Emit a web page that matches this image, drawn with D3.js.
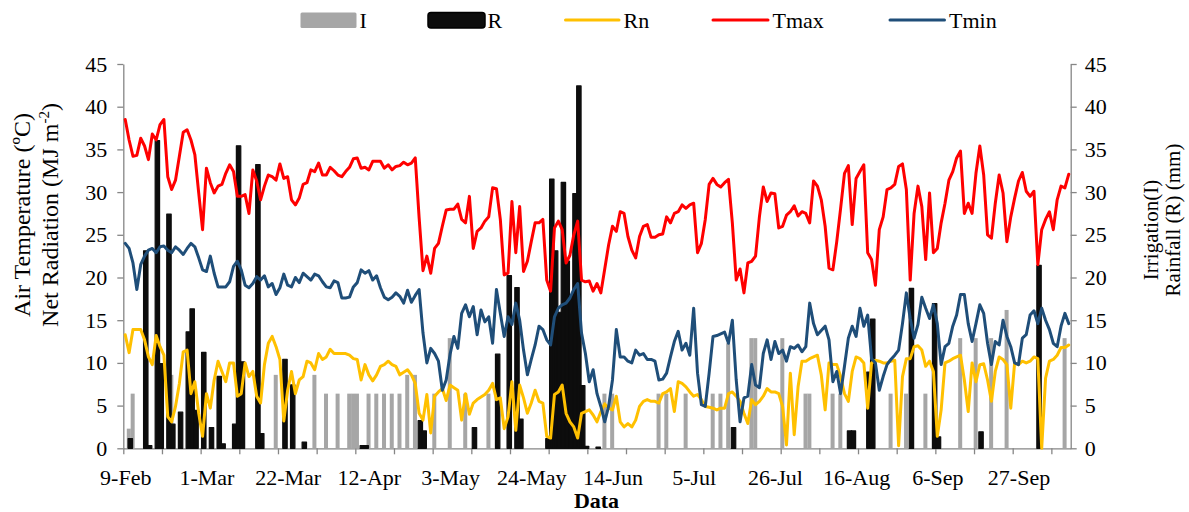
<!DOCTYPE html>
<html>
<head>
<meta charset="utf-8">
<script src="https://cdn.jsdelivr.net/npm/d3@7"></script>
<style>
  body { margin: 0; background: #fff; }
  text { font-family: "Liberation Serif", "Times New Roman", serif; fill: #000; }
</style>
</head>
<body>
<div id="chart"></div>
<script>
// daily series, day 0 = 9-Feb
const tmax = [
  38.5, 36.1, 34.2, 34.3, 36.3, 35.4, 33.8, 36.8, 36.1, 37.9,
  38.5, 31.8, 30.3, 31.4, 34.2, 37.0, 37.3, 36.1, 34.4, 29.9,
  25.6, 32.8, 31.1, 29.9, 30.7, 30.9, 32.2, 33.2, 32.4, 29.5,
  29.5, 29.7, 27.5, 32.6, 31.3, 29.1, 30.7, 32.0, 31.8, 31.4,
  33.3, 31.6, 31.8, 29.1, 28.5, 29.3, 30.9, 31.1, 32.6, 32.4,
  33.4, 32.0, 32.0, 32.9, 32.5, 32.0, 31.8, 32.4, 32.9, 33.9,
  34.0, 32.8, 32.9, 32.6, 33.6, 33.6, 33.6, 32.8, 33.2, 32.6,
  33.0, 33.1, 33.5, 33.2, 33.4, 34.0, 27.0, 20.8, 22.5, 20.5,
  23.4, 24.0, 26.0, 27.9, 28.0, 28.0, 28.6, 26.8, 26.4, 29.5,
  23.4, 25.4, 25.8, 26.6, 27.1, 30.5, 30.4, 26.8, 20.3, 20.5,
  28.9, 22.9, 28.3, 20.7, 21.9, 24.2, 26.4, 26.4, 26.8, 19.7,
  18.4, 25.8, 26.6, 25.6, 21.7, 22.6, 25.0, 26.6, 19.7, 19.5,
  19.6, 18.4, 19.3, 18.2, 21.0, 23.8, 26.0, 25.4, 27.7, 27.5,
  24.8, 23.2, 22.3, 24.8, 26.0, 26.2, 24.7, 24.7, 25.0, 25.1,
  27.1, 26.4, 27.5, 27.7, 28.5, 28.1, 28.5, 28.7, 22.9, 24.0,
  26.8, 30.9, 31.6, 30.9, 30.6, 31.1, 31.5, 26.4, 19.7, 21.0,
  18.2, 21.7, 21.9, 22.5, 27.1, 30.6, 28.9, 29.9, 29.8, 25.8,
  26.0, 27.3, 27.7, 28.4, 27.2, 27.7, 27.5, 26.4, 31.3, 30.7,
  29.1, 26.0, 21.1, 20.9, 24.2, 28.1, 32.2, 33.1, 26.2, 31.6,
  32.4, 33.2, 22.9, 22.1, 19.1, 25.6, 27.1, 30.3, 30.5, 30.9,
  33.0, 33.3, 30.3, 19.7, 27.5, 30.7, 28.3, 22.1, 29.9, 22.9,
  23.4, 26.4, 28.7, 31.4, 32.4, 34.0, 34.8, 27.5, 28.7, 27.5,
  32.2, 35.4, 32.0, 25.0, 24.6, 28.7, 32.0, 29.9, 24.2, 27.1,
  29.3, 31.3, 32.3, 30.1, 29.5, 30.1, 21.5, 25.6, 26.8, 27.7,
  25.6, 29.1, 30.7, 30.5, 32.1
];

const tmin = [
  24.0, 23.4, 21.7, 18.6, 21.5, 22.5, 23.2, 23.4, 22.9, 23.6,
  23.7, 23.2, 22.9, 23.6, 23.2, 22.7, 23.4, 24.0, 23.6, 22.3,
  20.9, 20.7, 22.5, 20.5, 18.9, 18.9, 18.9, 19.5, 21.3, 21.9,
  20.9, 19.1, 18.8, 19.3, 20.1, 19.7, 20.2, 18.9, 19.3, 18.0,
  18.8, 20.4, 19.1, 18.9, 20.0, 19.4, 20.5, 20.1, 19.7, 20.4,
  20.2, 19.5, 18.9, 18.8, 19.6, 19.4, 17.6, 17.6, 17.7, 18.9,
  19.4, 20.9, 20.5, 20.8, 19.7, 20.2, 18.8, 17.7, 17.4, 17.7,
  18.2, 17.8, 17.0, 18.5, 17.1, 17.9, 18.6, 13.5, 10.0, 11.7,
  11.1, 10.2, 6.8, 8.0, 11.0, 13.1, 11.7, 15.8, 16.8, 15.4,
  16.6, 13.3, 16.2, 14.8, 15.4, 12.3, 18.6, 15.8, 13.1, 15.4,
  14.5, 17.0, 15.0, 11.5, 8.6, 10.4, 12.1, 14.3, 13.9, 12.7,
  12.1, 15.4, 16.4, 16.8, 17.0, 17.6, 18.6, 19.3, 13.5, 11.1,
  7.8, 9.2, 6.4, 4.9, 3.1, 4.9, 8.0, 13.9, 10.7, 10.7,
  10.2, 10.0, 11.5, 10.9, 11.1, 10.4, 10.4, 10.2, 8.0, 8.1,
  8.8, 10.7, 12.5, 13.7, 11.5, 12.3, 10.9, 16.4, 8.8, 5.1,
  4.9, 8.8, 13.1, 13.2, 13.4, 13.6, 12.3, 15.0, 8.0, 3.1,
  5.9, 6.1, 9.8, 7.4, 7.1, 11.1, 12.7, 10.4, 12.5, 11.1,
  11.5, 10.2, 11.9, 11.7, 12.1, 11.3, 11.9, 17.0, 14.6, 13.3,
  13.8, 14.3, 12.7, 7.8, 9.0, 6.4, 9.6, 12.9, 14.3, 13.1,
  16.4, 14.3, 15.6, 10.5, 10.0, 6.8, 8.4, 9.8, 10.4, 10.9,
  11.5, 14.6, 18.2, 15.2, 12.9, 14.5, 17.7, 16.4, 15.2, 16.8,
  14.6, 9.8, 11.9, 12.3, 14.3, 15.6, 18.0, 18.0, 14.6, 12.5,
  14.6, 16.8, 15.8, 12.3, 9.8, 12.5, 12.1, 15.0, 13.1, 11.9,
  10.0, 9.8, 12.9, 13.3, 15.6, 16.1, 14.6, 16.4, 15.0, 13.9,
  12.3, 11.9, 14.3, 15.8, 14.6
];

const rn = [
  13.3, 11.2, 13.9, 13.9, 13.9, 12.7, 10.7, 9.8, 13.2, 11.9,
  10.9, 3.7, 3.1, 4.9, 7.6, 11.3, 11.5, 6.4, 7.8, 4.1,
  1.4, 6.4, 4.7, 8.0, 10.2, 9.0, 7.8, 10.0, 10.0, 6.1,
  6.4, 10.0, 8.4, 9.0, 6.1, 5.3, 9.8, 12.3, 13.1, 11.9,
  10.4, 3.2, 6.8, 9.0, 6.4, 8.0, 8.4, 10.2, 10.0, 9.2,
  11.1, 10.4, 10.7, 11.6, 11.1, 11.1, 11.1, 11.1, 10.9, 10.5,
  10.4, 8.0, 9.8, 8.6, 7.9, 8.6, 9.6, 9.8, 10.2, 9.8,
  9.6, 8.6, 8.9, 9.2, 8.6, 7.6, 4.1, 3.3, 6.3, 1.8,
  6.1, 6.6, 7.0, 5.6, 7.4, 7.1, 6.8, 3.3, 6.4, 4.0,
  5.3, 5.7, 6.0, 6.3, 6.8, 7.6, 5.7, 5.9, 2.3, 3.7,
  7.8, 2.1, 7.4, 5.9, 4.1, 5.3, 6.8, 5.5, 5.3, 1.4,
  1.2, 6.3, 6.6, 7.4, 4.1, 3.1, 2.5, 1.2, 4.1, 4.3,
  4.5, 3.9, 3.1, 4.3, 5.2, 4.7, 4.5, 6.1, 3.1, 2.5,
  2.9, 2.5, 3.3, 4.9, 5.5, 5.7, 5.5, 5.5, 5.3, 6.4,
  6.6, 7.0, 4.3, 7.8, 7.6, 7.2, 6.6, 6.1, 6.3, 5.7,
  4.9, 4.8, 4.7, 4.5, 4.7, 4.7, 6.4, 6.6, 6.1, 5.5,
  4.1, 2.9, 5.7, 5.1, 5.5, 6.1, 7.0, 6.6, 6.6, 6.4,
  4.9, 0.4, 8.8, 1.6, 7.2, 10.2, 10.2, 10.5, 10.7, 10.9,
  8.6, 4.5, 10.0, 9.8, 9.8, 8.4, 6.4, 5.5, 9.0, 10.7,
  10.5, 10.0, 4.7, 10.0, 10.3, 10.2, 10.0, 10.0, 10.2, 10.3,
  0.3, 8.4, 10.5, 10.5, 11.9, 12.0, 11.5, 9.6, 10.2, 9.0,
  1.4, 4.5, 10.0, 10.2, 10.5, 10.7, 10.9, 8.0, 4.3, 10.0,
  7.8, 9.8, 9.9, 8.0, 5.5, 9.0, 10.7, 10.4, 9.8, 4.7,
  10.0, 9.8, 10.2, 10.0, 10.2, 10.7, 10.5, 0.0, 8.2, 10.2,
  10.4, 10.9, 11.8, 11.8, 12.1
];

// [day, mm]
const irrigation = [
  [1, 2.3], [2, 6.4], [12, 8.6], [39, 8.6], [49, 8.6], [52, 6.4], [55, 6.4],
  [58, 6.4], [59, 6.4], [60, 6.4], [63, 6.4], [65, 6.4], [67, 6.4], [69, 6.4],
  [71, 6.4], [73, 8.6], [75, 8.6], [80, 6.4], [84, 12.9], [88, 6.4], [94, 6.4],
  [124, 6.4], [126, 6.4], [138, 6.4], [140, 6.4], [145, 6.4], [152, 6.4],
  [154, 6.4], [156, 12.3], [162, 12.9], [163, 12.9], [170, 12.9], [176, 6.4],
  [177, 6.4], [183, 6.4], [185, 6.4], [198, 6.4], [202, 6.4], [207, 6.4],
  [216, 12.9], [220, 12.9], [224, 12.9], [228, 16.2], [243, 12.9]
];

const rainfall = [
  [1, 1.2], [5, 23.2], [6, 0.4], [8, 36.1], [9, 10.0], [11, 27.5], [12, 2.9],
  [14, 4.3], [16, 13.7], [17, 16.4], [18, 4.5], [20, 11.3], [22, 2.5], [24, 8.5],
  [25, 0.6], [28, 2.9], [29, 35.5], [30, 10.2], [34, 33.3], [35, 1.8],
  [41, 10.5], [43, 7.5], [46, 0.8], [61, 0.4], [62, 0.4], [76, 3.3], [77, 2.1],
  [90, 2.5], [96, 11.1], [99, 20.3], [101, 18.9], [102, 3.5], [109, 1.2],
  [110, 31.6], [111, 23.2], [112, 16.0], [113, 31.2], [114, 22.0], [115, 18.0],
  [116, 29.9], [117, 42.5], [118, 7.4], [119, 0.3], [122, 0.2], [157, 2.5],
  [187, 2.1], [188, 2.1], [192, 9.0], [193, 15.2], [203, 18.8], [209, 17.0],
  [210, 1.4], [221, 2.0], [236, 21.5]
];

const xTickLabels = ["9-Feb", "1-Mar", "22-Mar", "12-Apr", "3-May", "24-May",
  "14-Jun", "5-Jul", "26-Jul", "16-Aug", "6-Sep", "27-Sep"];
const labelStep = 21;
const markStep = 10;
const yTicks = d3.range(0, 46, 5);

const width = 1189, height = 512;
const plot = {left: 123.3, right: 1070.7, top: 64, bottom: 448.3};
const axisColor = "#868686";

const svg = d3.select("#chart").append("svg")
  .attr("width", width)
  .attr("height", height);

const nDays = tmax.length;
const x = d3.scaleLinear().domain([0, nDays]).range([plot.left, plot.right]);
const y = d3.scaleLinear().domain([0, 45]).range([plot.bottom, plot.top]);
const cx = i => x(i + 0.5);

function styleAxis(g) {
  g.style("color", axisColor);
  g.selectAll("path, line").attr("stroke-width", 1.3);
  g.selectAll("text").style("font-size", "22px").attr("fill", "#000")
    .style("font-family", '"Liberation Serif", serif');
}

// x axis: marks every 10 days, labels every 21 days
svg.append("g")
  .attr("transform", "translate(0," + y(0) + ")")
  .call(d3.axisBottom(x).tickValues(d3.range(0, nDays, markStep))
    .tickSize(6).tickSizeOuter(0).tickFormat(""))
  .call(styleAxis);

svg.append("g")
  .attr("transform", "translate(0," + y(0) + ")")
  .call(d3.axisBottom(x).tickValues(xTickLabels.map((d, k) => k * labelStep + 0.5))
    .tickSize(0).tickPadding(21).tickFormat((d, k) => xTickLabels[k]))
  .call(g => g.select(".domain").remove())
  .call(styleAxis);

// left and right value axes
svg.append("g")
  .attr("transform", "translate(" + plot.left + ",0)")
  .call(d3.axisLeft(y).tickValues(yTicks).tickSize(6).tickSizeOuter(0).tickPadding(10))
  .call(styleAxis);

svg.append("g")
  .attr("transform", "translate(" + plot.right + ",0)")
  .call(d3.axisRight(y).tickValues(yTicks).tickSize(6).tickSizeOuter(0).tickPadding(8))
  .call(styleAxis);

// bars
svg.append("g").selectAll("rect").data(irrigation).join("rect")
  .attr("x", d => cx(d[0]) - 2.3)
  .attr("width", 4)
  .attr("y", d => y(d[1]))
  .attr("height", d => y(0) - y(d[1]))
  .attr("fill", "#A6A6A6");

svg.append("g").selectAll("rect").data(rainfall).join("rect")
  .attr("x", d => cx(d[0]) - 1.0)
  .attr("width", 4.4)
  .attr("y", d => y(d[1]) + 0.6)
  .attr("height", d => Math.max(0, y(0) - y(d[1]) - 0.6))
  .attr("fill", "#0D0D0D")
  .attr("stroke", "#0D0D0D")
  .attr("stroke-width", 1.2)
  .attr("stroke-linejoin", "round");

// lines
const line = d3.line().x((d, i) => cx(i)).y(d => y(d));
[[rn, "#FFC000"], [tmax, "#FF0000"], [tmin, "#1F4E79"]].forEach(([s, c]) => {
  svg.append("path")
    .datum(s)
    .attr("fill", "none")
    .attr("stroke", c)
    .attr("stroke-width", 3)
    .attr("stroke-linejoin", "round")
    .attr("stroke-linecap", "round")
    .attr("d", line);
});

// legend
const lg = svg.append("g").style("font-size", "22px");
lg.append("rect").attr("x", 300.5).attr("y", 12.5).attr("width", 56).attr("height", 15.5)
  .attr("rx", 1.5).attr("fill", "#A6A6A6");
lg.append("text").attr("x", 359.5).attr("y", 27.5).text("I");
lg.append("rect").attr("x", 428).attr("y", 12.5).attr("width", 57).attr("height", 15.5)
  .attr("rx", 3).attr("fill", "#0D0D0D").attr("stroke", "#000").attr("stroke-width", 1.5);
lg.append("text").attr("x", 487.5).attr("y", 27.5).text("R");
[["Rn", "#FFC000", 565.5, 619], ["Tmax", "#FF0000", 713, 768], ["Tmin", "#1F4E79", 890, 944.5]]
  .forEach(([name, c, x0, x1]) => {
    lg.append("line").attr("x1", x0).attr("x2", x1).attr("y1", 20).attr("y2", 20)
      .attr("stroke", c).attr("stroke-width", 3).attr("stroke-linecap", "round");
    lg.append("text").attr("x", x1 + 4.5).attr("y", 27.5).text(name);
  });

// axis titles
svg.append("text")
  .attr("transform", "translate(30,215) rotate(-90)")
  .attr("text-anchor", "middle")
  .style("font-size", "24px")
  .text("Air Temperature (ºC)");

const t2 = svg.append("text")
  .attr("transform", "translate(58,215) rotate(-90)")
  .attr("text-anchor", "middle")
  .style("font-size", "24px");
t2.append("tspan").text("Net Radiation (MJ m");
t2.append("tspan").attr("dy", -9).style("font-size", "15px").text("-2");
t2.append("tspan").attr("dy", 9).text(")");

svg.append("text")
  .attr("transform", "translate(1158,230) rotate(-90)")
  .attr("text-anchor", "middle")
  .style("font-size", "21px")
  .text("Irrigation(I)");

svg.append("text")
  .attr("transform", "translate(1180,220) rotate(-90)")
  .attr("text-anchor", "middle")
  .style("font-size", "21px")
  .text("Rainfall (R) (mm)");

svg.append("text")
  .attr("x", 596.5).attr("y", 508)
  .attr("text-anchor", "middle")
  .style("font-size", "22px")
  .style("font-weight", "bold")
  .text("Data");
</script>
</body>
</html>
